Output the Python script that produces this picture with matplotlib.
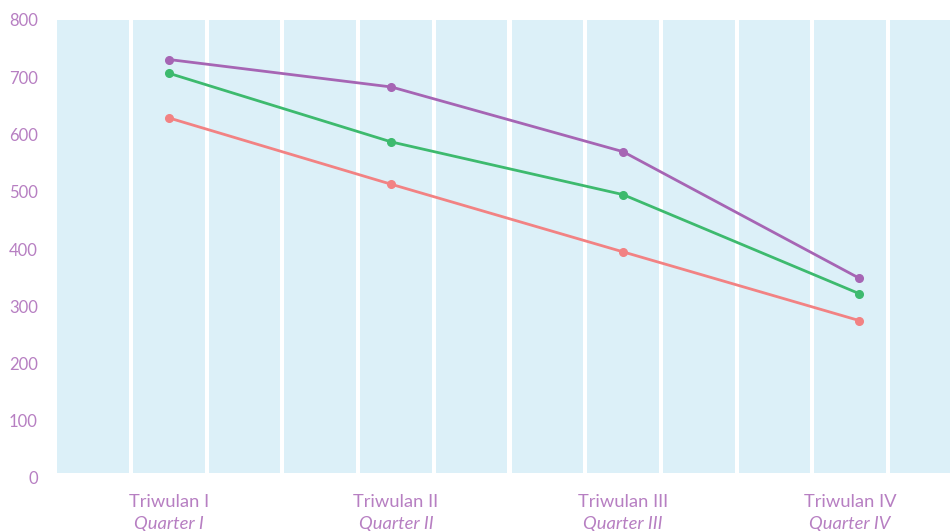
import matplotlib.pyplot as plt
import numpy as np

plt.rcParams['font.family'] = ['Lato', 'DejaVu Sans']

# data
triwulan = ["Triwulan I", "Triwulan II", "Triwulan III", "Triwulan IV"]
quarter = ["Quarter I", "Quarter II", "Quarter III", "Quarter IV"]
x_pos = [0.50, 1.48, 2.50, 3.54]
ungu = [731, 683, 570, 349]
hijau = [707, 587, 495, 322]
merah = [629, 513, 395, 275]

txt_color = "#b77fc2"
band_color = "#dcf0f8"

fig = plt.figure(figsize=(9.5, 5.31), dpi=100)
# the axes runs a little past the right edge of the figure
ax = fig.add_axes([55.3 / 950, 53 / 531, 908.4 / 950, 458 / 531])

ax.set_xlim(0, 4)
ax.set_ylim(0, 800)

# light blue columns, 3 per quarter, separated by white gaps
gap = 4 / 227
for i in range(12):
    a = i / 3 + gap / 2
    b = (i + 1) / 3 - gap / 2
    ax.axvspan(a, b, ymin=5 / 458, ymax=1, color=band_color, lw=0, zorder=0)

ax.plot(x_pos, ungu, color="#a665b4", lw=2.0, marker="o", ms=5.5, zorder=3)
ax.plot(x_pos, hijau, color="#3dba6e", lw=2.0, marker="o", ms=5.5, zorder=3)
ax.plot(x_pos, merah, color="#f28283", lw=2.0, marker="o", ms=5.5, zorder=3)

for s in ax.spines.values():
    s.set_visible(False)

ax.set_yticks(range(0, 801, 100))
ax.tick_params(axis="y", length=0, pad=12.5, labelsize=12, labelcolor=txt_color)
ax.set_xticks([])

trans = ax.get_xaxis_transform()
for i in range(4):
    ax.text(i + 0.5, -24 / 458, triwulan[i], transform=trans, ha="center", va="center",
            fontsize=13.2, color=txt_color)
    ax.text(i + 0.5, -45.5 / 458, quarter[i], transform=trans, ha="center", va="center",
            fontsize=13.2, color=txt_color, style="italic")

fig.savefig("out.png", dpi=100)
